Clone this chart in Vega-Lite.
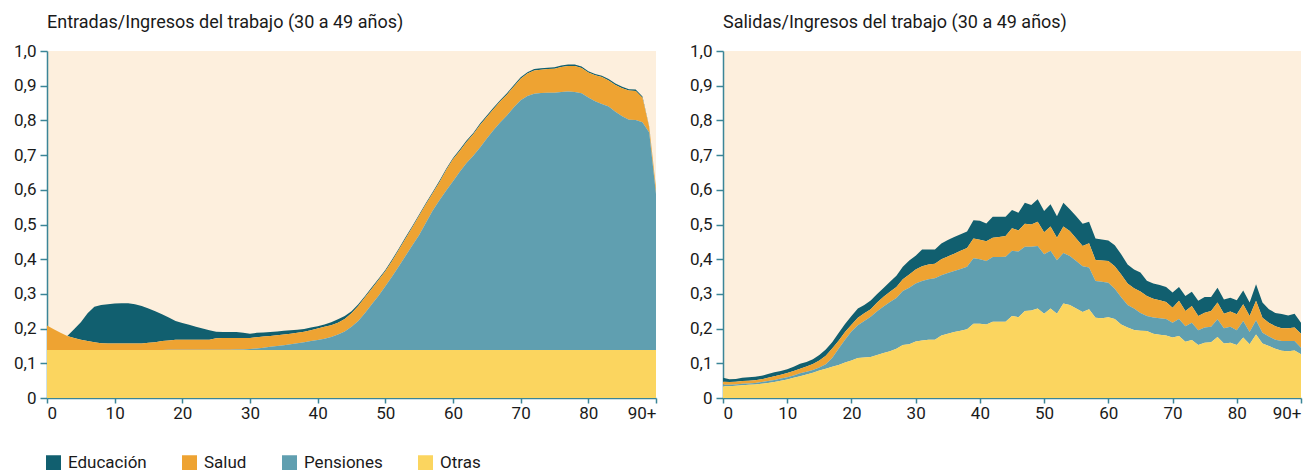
{
  "$schema": "https://vega.github.io/schema/vega-lite/v6.json",
  "background": "white",
  "padding": {"left": 13, "top": 14, "right": 10, "bottom": 0},
  "spacing": 67,
  "bounds": "flush",
  "config": {
    "font": "Roboto",
    "view": {"fill": "#FDEFDD", "stroke": null},
    "axis": {
      "grid": false,
      "title": null,
      "domainColor": "#3b8597",
      "domainWidth": 1.5,
      "tickColor": "#3b8597",
      "tickWidth": 1.5,
      "labelFont": "Roboto",
      "labelFontSize": 17,
      "labelColor": "#1a1a1a"
    },
    "title": {"font": "Roboto", "fontSize": 18, "fontWeight": "normal", "color": "#1a1a1a", "anchor": "start", "frame": "group", "offset": 10},
    "legend": {
      "orient": "none",
      "legendX": -2,
      "legendY": 403,
      "direction": "horizontal",
      "title": null,
      "symbolType": "square",
      "symbolSize": 225,
      "symbolStrokeWidth": 0,
      "labelFont": "Roboto",
      "labelFontSize": 17,
      "labelColor": "#1a1a1a",
      "labelOffset": 6,
      "columnPadding": 34
    }
  },
  "datasets": {
    "entradas": [
      {"edad":0,"Educación":0,"Salud":0.071,"Pensiones":0,"Otras":0.138},
      {"edad":1,"Educación":0,"Salud":0.060,"Pensiones":0,"Otras":0.138},
      {"edad":2,"Educación":0,"Salud":0.050,"Pensiones":0,"Otras":0.138},
      {"edad":3,"Educación":0,"Salud":0.041,"Pensiones":0,"Otras":0.138},
      {"edad":4,"Educación":0.025,"Salud":0.035,"Pensiones":0,"Otras":0.138},
      {"edad":5,"Educación":0.05,"Salud":0.030,"Pensiones":0,"Otras":0.138},
      {"edad":6,"Educación":0.08,"Salud":0.026,"Pensiones":0,"Otras":0.138},
      {"edad":7,"Educación":0.102,"Salud":0.023,"Pensiones":0,"Otras":0.138},
      {"edad":8,"Educación":0.11,"Salud":0.020,"Pensiones":0,"Otras":0.138},
      {"edad":9,"Educación":0.113,"Salud":0.019,"Pensiones":0,"Otras":0.138},
      {"edad":10,"Educación":0.115,"Salud":0.019,"Pensiones":0,"Otras":0.138},
      {"edad":11,"Educación":0.116,"Salud":0.019,"Pensiones":0,"Otras":0.138},
      {"edad":12,"Educación":0.116,"Salud":0.019,"Pensiones":0,"Otras":0.138},
      {"edad":13,"Educación":0.113,"Salud":0.019,"Pensiones":0,"Otras":0.138},
      {"edad":14,"Educación":0.108,"Salud":0.019,"Pensiones":0,"Otras":0.138},
      {"edad":15,"Educación":0.099,"Salud":0.021,"Pensiones":0,"Otras":0.138},
      {"edad":16,"Educación":0.089,"Salud":0.023,"Pensiones":0,"Otras":0.138},
      {"edad":17,"Educación":0.077,"Salud":0.026,"Pensiones":0,"Otras":0.138},
      {"edad":18,"Educación":0.066,"Salud":0.027,"Pensiones":0.001,"Otras":0.138},
      {"edad":19,"Educación":0.054,"Salud":0.029,"Pensiones":0.001,"Otras":0.138},
      {"edad":20,"Educación":0.048,"Salud":0.029,"Pensiones":0.001,"Otras":0.138},
      {"edad":21,"Educación":0.043,"Salud":0.029,"Pensiones":0.001,"Otras":0.138},
      {"edad":22,"Educación":0.037,"Salud":0.029,"Pensiones":0.001,"Otras":0.138},
      {"edad":23,"Educación":0.032,"Salud":0.029,"Pensiones":0.001,"Otras":0.138},
      {"edad":24,"Educación":0.027,"Salud":0.029,"Pensiones":0.001,"Otras":0.138},
      {"edad":25,"Educación":0.019,"Salud":0.033,"Pensiones":0.001,"Otras":0.138},
      {"edad":26,"Educación":0.017,"Salud":0.034,"Pensiones":0.001,"Otras":0.138},
      {"edad":27,"Educación":0.017,"Salud":0.034,"Pensiones":0.001,"Otras":0.138},
      {"edad":28,"Educación":0.017,"Salud":0.033,"Pensiones":0.002,"Otras":0.138},
      {"edad":29,"Educación":0.015,"Salud":0.033,"Pensiones":0.002,"Otras":0.138},
      {"edad":30,"Educación":0.012,"Salud":0.032,"Pensiones":0.003,"Otras":0.138},
      {"edad":31,"Educación":0.013,"Salud":0.032,"Pensiones":0.005,"Otras":0.138},
      {"edad":32,"Educación":0.012,"Salud":0.032,"Pensiones":0.007,"Otras":0.138},
      {"edad":33,"Educación":0.011,"Salud":0.031,"Pensiones":0.010,"Otras":0.138},
      {"edad":34,"Educación":0.011,"Salud":0.031,"Pensiones":0.012,"Otras":0.138},
      {"edad":35,"Educación":0.011,"Salud":0.031,"Pensiones":0.014,"Otras":0.138},
      {"edad":36,"Educación":0.010,"Salud":0.030,"Pensiones":0.017,"Otras":0.138},
      {"edad":37,"Educación":0.009,"Salud":0.030,"Pensiones":0.020,"Otras":0.138},
      {"edad":38,"Educación":0.008,"Salud":0.030,"Pensiones":0.023,"Otras":0.138},
      {"edad":39,"Educación":0.008,"Salud":0.031,"Pensiones":0.026,"Otras":0.138},
      {"edad":40,"Educación":0.007,"Salud":0.033,"Pensiones":0.029,"Otras":0.138},
      {"edad":41,"Educación":0.007,"Salud":0.034,"Pensiones":0.033,"Otras":0.138},
      {"edad":42,"Educación":0.008,"Salud":0.034,"Pensiones":0.038,"Otras":0.138},
      {"edad":43,"Educación":0.010,"Salud":0.034,"Pensiones":0.045,"Otras":0.138},
      {"edad":44,"Educación":0.008,"Salud":0.036,"Pensiones":0.054,"Otras":0.138},
      {"edad":45,"Educación":0.006,"Salud":0.039,"Pensiones":0.067,"Otras":0.138},
      {"edad":46,"Educación":0.005,"Salud":0.043,"Pensiones":0.084,"Otras":0.138},
      {"edad":47,"Educación":0.004,"Salud":0.045,"Pensiones":0.107,"Otras":0.138},
      {"edad":48,"Educación":0.004,"Salud":0.045,"Pensiones":0.132,"Otras":0.138},
      {"edad":49,"Educación":0.004,"Salud":0.045,"Pensiones":0.157,"Otras":0.138},
      {"edad":50,"Educación":0.004,"Salud":0.043,"Pensiones":0.184,"Otras":0.138},
      {"edad":51,"Educación":0.004,"Salud":0.045,"Pensiones":0.212,"Otras":0.138},
      {"edad":52,"Educación":0.004,"Salud":0.047,"Pensiones":0.242,"Otras":0.138},
      {"edad":53,"Educación":0.004,"Salud":0.050,"Pensiones":0.272,"Otras":0.138},
      {"edad":54,"Educación":0.004,"Salud":0.052,"Pensiones":0.302,"Otras":0.138},
      {"edad":55,"Educación":0.004,"Salud":0.055,"Pensiones":0.332,"Otras":0.138},
      {"edad":56,"Educación":0.004,"Salud":0.053,"Pensiones":0.367,"Otras":0.138},
      {"edad":57,"Educación":0.004,"Salud":0.050,"Pensiones":0.402,"Otras":0.138},
      {"edad":58,"Educación":0.004,"Salud":0.052,"Pensiones":0.432,"Otras":0.138},
      {"edad":59,"Educación":0.004,"Salud":0.059,"Pensiones":0.460,"Otras":0.138},
      {"edad":60,"Educación":0.004,"Salud":0.063,"Pensiones":0.487,"Otras":0.138},
      {"edad":61,"Educación":0.004,"Salud":0.060,"Pensiones":0.514,"Otras":0.138},
      {"edad":62,"Educación":0.004,"Salud":0.061,"Pensiones":0.539,"Otras":0.138},
      {"edad":63,"Educación":0.004,"Salud":0.062,"Pensiones":0.560,"Otras":0.138},
      {"edad":64,"Educación":0.004,"Salud":0.065,"Pensiones":0.584,"Otras":0.138},
      {"edad":65,"Educación":0.004,"Salud":0.062,"Pensiones":0.610,"Otras":0.138},
      {"edad":66,"Educación":0.004,"Salud":0.061,"Pensiones":0.634,"Otras":0.138},
      {"edad":67,"Educación":0.004,"Salud":0.060,"Pensiones":0.657,"Otras":0.138},
      {"edad":68,"Educación":0.004,"Salud":0.060,"Pensiones":0.677,"Otras":0.138},
      {"edad":69,"Educación":0.004,"Salud":0.060,"Pensiones":0.700,"Otras":0.138},
      {"edad":70,"Educación":0.004,"Salud":0.062,"Pensiones":0.720,"Otras":0.138},
      {"edad":71,"Educación":0.004,"Salud":0.065,"Pensiones":0.732,"Otras":0.138},
      {"edad":72,"Educación":0.004,"Salud":0.067,"Pensiones":0.739,"Otras":0.138},
      {"edad":73,"Educación":0.004,"Salud":0.067,"Pensiones":0.741,"Otras":0.138},
      {"edad":74,"Educación":0.004,"Salud":0.068,"Pensiones":0.742,"Otras":0.138},
      {"edad":75,"Educación":0.004,"Salud":0.069,"Pensiones":0.742,"Otras":0.138},
      {"edad":76,"Educación":0.004,"Salud":0.072,"Pensiones":0.744,"Otras":0.138},
      {"edad":77,"Educación":0.004,"Salud":0.074,"Pensiones":0.745,"Otras":0.138},
      {"edad":78,"Educación":0.004,"Salud":0.075,"Pensiones":0.744,"Otras":0.138},
      {"edad":79,"Educación":0.004,"Salud":0.073,"Pensiones":0.740,"Otras":0.138},
      {"edad":80,"Educación":0.004,"Salud":0.072,"Pensiones":0.728,"Otras":0.138},
      {"edad":81,"Educación":0.004,"Salud":0.075,"Pensiones":0.717,"Otras":0.138},
      {"edad":82,"Educación":0.004,"Salud":0.078,"Pensiones":0.709,"Otras":0.138},
      {"edad":83,"Educación":0.004,"Salud":0.075,"Pensiones":0.702,"Otras":0.138},
      {"edad":84,"Educación":0.004,"Salud":0.077,"Pensiones":0.687,"Otras":0.138},
      {"edad":85,"Educación":0.004,"Salud":0.081,"Pensiones":0.674,"Otras":0.138},
      {"edad":86,"Educación":0.004,"Salud":0.084,"Pensiones":0.664,"Otras":0.138},
      {"edad":87,"Educación":0.004,"Salud":0.084,"Pensiones":0.663,"Otras":0.138},
      {"edad":88,"Educación":0.004,"Salud":0.070,"Pensiones":0.657,"Otras":0.138},
      {"edad":89,"Educación":0.002,"Salud":0.015,"Pensiones":0.627,"Otras":0.138},
      {"edad":90,"Educación":0,"Salud":0.017,"Pensiones":0.450,"Otras":0.138}
    ],
    "salidas": [
      {"edad":0,"Educación":0.011,"Salud":0.009,"Pensiones":0.004,"Otras":0.034},
      {"edad":1,"Educación":0.008,"Salud":0.008,"Pensiones":0.004,"Otras":0.034},
      {"edad":2,"Educación":0.008,"Salud":0.008,"Pensiones":0.004,"Otras":0.035},
      {"edad":3,"Educación":0.009,"Salud":0.008,"Pensiones":0.004,"Otras":0.037},
      {"edad":4,"Educación":0.010,"Salud":0.008,"Pensiones":0.004,"Otras":0.038},
      {"edad":5,"Educación":0.010,"Salud":0.008,"Pensiones":0.004,"Otras":0.039},
      {"edad":6,"Educación":0.010,"Salud":0.008,"Pensiones":0.005,"Otras":0.041},
      {"edad":7,"Educación":0.011,"Salud":0.009,"Pensiones":0.006,"Otras":0.043},
      {"edad":8,"Educación":0.011,"Salud":0.011,"Pensiones":0.006,"Otras":0.046},
      {"edad":9,"Educación":0.011,"Salud":0.011,"Pensiones":0.006,"Otras":0.050},
      {"edad":10,"Educación":0.011,"Salud":0.012,"Pensiones":0.007,"Otras":0.053},
      {"edad":11,"Educación":0.012,"Salud":0.013,"Pensiones":0.007,"Otras":0.058},
      {"edad":12,"Educación":0.015,"Salud":0.013,"Pensiones":0.008,"Otras":0.063},
      {"edad":13,"Educación":0.013,"Salud":0.015,"Pensiones":0.008,"Otras":0.068},
      {"edad":14,"Educación":0.014,"Salud":0.017,"Pensiones":0.008,"Otras":0.073},
      {"edad":15,"Educación":0.016,"Salud":0.020,"Pensiones":0.009,"Otras":0.079},
      {"edad":16,"Educación":0.018,"Salud":0.025,"Pensiones":0.013,"Otras":0.084},
      {"edad":17,"Educación":0.018,"Salud":0.028,"Pensiones":0.025,"Otras":0.090},
      {"edad":18,"Educación":0.022,"Salud":0.023,"Pensiones":0.047,"Otras":0.095},
      {"edad":19,"Educación":0.023,"Salud":0.022,"Pensiones":0.066,"Otras":0.102},
      {"edad":20,"Educación":0.025,"Salud":0.019,"Pensiones":0.084,"Otras":0.108},
      {"edad":21,"Educación":0.027,"Salud":0.021,"Pensiones":0.095,"Otras":0.115},
      {"edad":22,"Educación":0.024,"Salud":0.022,"Pensiones":0.105,"Otras":0.117},
      {"edad":23,"Educación":0.025,"Salud":0.022,"Pensiones":0.116,"Otras":0.118},
      {"edad":24,"Educación":0.025,"Salud":0.025,"Pensiones":0.126,"Otras":0.124},
      {"edad":25,"Educación":0.025,"Salud":0.028,"Pensiones":0.134,"Otras":0.130},
      {"edad":26,"Educación":0.029,"Salud":0.029,"Pensiones":0.142,"Otras":0.135},
      {"edad":27,"Educación":0.032,"Salud":0.032,"Pensiones":0.146,"Otras":0.142},
      {"edad":28,"Educación":0.036,"Salud":0.034,"Pensiones":0.155,"Otras":0.153},
      {"edad":29,"Educación":0.040,"Salud":0.038,"Pensiones":0.163,"Otras":0.155},
      {"edad":30,"Educación":0.040,"Salud":0.040,"Pensiones":0.167,"Otras":0.163},
      {"edad":31,"Educación":0.048,"Salud":0.043,"Pensiones":0.171,"Otras":0.166},
      {"edad":32,"Educación":0.043,"Salud":0.043,"Pensiones":0.174,"Otras":0.168},
      {"edad":33,"Educación":0.041,"Salud":0.042,"Pensiones":0.177,"Otras":0.168},
      {"edad":34,"Educación":0.045,"Salud":0.046,"Pensiones":0.174,"Otras":0.180},
      {"edad":35,"Educación":0.047,"Salud":0.048,"Pensiones":0.175,"Otras":0.185},
      {"edad":36,"Educación":0.048,"Salud":0.050,"Pensiones":0.176,"Otras":0.190},
      {"edad":37,"Educación":0.048,"Salud":0.052,"Pensiones":0.178,"Otras":0.194},
      {"edad":38,"Educación":0.048,"Salud":0.054,"Pensiones":0.180,"Otras":0.198},
      {"edad":39,"Educación":0.052,"Salud":0.057,"Pensiones":0.189,"Otras":0.214},
      {"edad":40,"Educación":0.055,"Salud":0.056,"Pensiones":0.186,"Otras":0.214},
      {"edad":41,"Educación":0.051,"Salud":0.057,"Pensiones":0.183,"Otras":0.212},
      {"edad":42,"Educación":0.060,"Salud":0.056,"Pensiones":0.186,"Otras":0.220},
      {"edad":43,"Educación":0.058,"Salud":0.058,"Pensiones":0.186,"Otras":0.220},
      {"edad":44,"Educación":0.055,"Salud":0.060,"Pensiones":0.187,"Otras":0.220},
      {"edad":45,"Educación":0.053,"Salud":0.065,"Pensiones":0.188,"Otras":0.236},
      {"edad":46,"Educación":0.051,"Salud":0.061,"Pensiones":0.189,"Otras":0.233},
      {"edad":47,"Educación":0.061,"Salud":0.066,"Pensiones":0.185,"Otras":0.251},
      {"edad":48,"Educación":0.056,"Salud":0.064,"Pensiones":0.184,"Otras":0.252},
      {"edad":49,"Educación":0.065,"Salud":0.070,"Pensiones":0.180,"Otras":0.258},
      {"edad":50,"Educación":0.061,"Salud":0.064,"Pensiones":0.171,"Otras":0.243},
      {"edad":51,"Educación":0.064,"Salud":0.070,"Pensiones":0.166,"Otras":0.258},
      {"edad":52,"Educación":0.062,"Salud":0.065,"Pensiones":0.154,"Otras":0.243},
      {"edad":53,"Educación":0.069,"Salud":0.076,"Pensiones":0.146,"Otras":0.272},
      {"edad":54,"Educación":0.063,"Salud":0.072,"Pensiones":0.141,"Otras":0.268},
      {"edad":55,"Educación":0.064,"Salud":0.065,"Pensiones":0.137,"Otras":0.258},
      {"edad":56,"Educación":0.064,"Salud":0.058,"Pensiones":0.132,"Otras":0.248},
      {"edad":57,"Educación":0.062,"Salud":0.070,"Pensiones":0.120,"Otras":0.256},
      {"edad":58,"Educación":0.062,"Salud":0.061,"Pensiones":0.106,"Otras":0.231},
      {"edad":59,"Educación":0.061,"Salud":0.061,"Pensiones":0.105,"Otras":0.230},
      {"edad":60,"Educación":0.059,"Salud":0.063,"Pensiones":0.099,"Otras":0.233},
      {"edad":61,"Educación":0.060,"Salud":0.065,"Pensiones":0.087,"Otras":0.228},
      {"edad":62,"Educación":0.058,"Salud":0.066,"Pensiones":0.078,"Otras":0.212},
      {"edad":63,"Educación":0.055,"Salud":0.062,"Pensiones":0.065,"Otras":0.203},
      {"edad":64,"Educación":0.054,"Salud":0.058,"Pensiones":0.062,"Otras":0.196},
      {"edad":65,"Educación":0.055,"Salud":0.062,"Pensiones":0.051,"Otras":0.194},
      {"edad":66,"Educación":0.044,"Salud":0.058,"Pensiones":0.043,"Otras":0.193},
      {"edad":67,"Educación":0.044,"Salud":0.054,"Pensiones":0.047,"Otras":0.185},
      {"edad":68,"Educación":0.044,"Salud":0.052,"Pensiones":0.048,"Otras":0.182},
      {"edad":69,"Educación":0.043,"Salud":0.049,"Pensiones":0.048,"Otras":0.180},
      {"edad":70,"Educación":0.044,"Salud":0.043,"Pensiones":0.043,"Otras":0.174},
      {"edad":71,"Educación":0.040,"Salud":0.052,"Pensiones":0.049,"Otras":0.179},
      {"edad":72,"Educación":0.043,"Salud":0.044,"Pensiones":0.045,"Otras":0.162},
      {"edad":73,"Educación":0.041,"Salud":0.048,"Pensiones":0.050,"Otras":0.167},
      {"edad":74,"Educación":0.044,"Salud":0.041,"Pensiones":0.042,"Otras":0.153},
      {"edad":75,"Educación":0.045,"Salud":0.043,"Pensiones":0.044,"Otras":0.159},
      {"edad":76,"Educación":0.040,"Salud":0.046,"Pensiones":0.044,"Otras":0.161},
      {"edad":77,"Educación":0.043,"Salud":0.048,"Pensiones":0.051,"Otras":0.176},
      {"edad":78,"Educación":0.041,"Salud":0.042,"Pensiones":0.044,"Otras":0.157},
      {"edad":79,"Educación":0.040,"Salud":0.044,"Pensiones":0.046,"Otras":0.159},
      {"edad":80,"Educación":0.041,"Salud":0.046,"Pensiones":0.042,"Otras":0.153},
      {"edad":81,"Educación":0.040,"Salud":0.048,"Pensiones":0.048,"Otras":0.174},
      {"edad":82,"Educación":0.039,"Salud":0.046,"Pensiones":0.035,"Otras":0.155},
      {"edad":83,"Educación":0.048,"Salud":0.056,"Pensiones":0.041,"Otras":0.183},
      {"edad":84,"Educación":0.044,"Salud":0.043,"Pensiones":0.031,"Otras":0.157},
      {"edad":85,"Educación":0.039,"Salud":0.040,"Pensiones":0.027,"Otras":0.150},
      {"edad":86,"Educación":0.038,"Salud":0.039,"Pensiones":0.026,"Otras":0.142},
      {"edad":87,"Educación":0.041,"Salud":0.037,"Pensiones":0.028,"Otras":0.136},
      {"edad":88,"Educación":0.037,"Salud":0.037,"Pensiones":0.029,"Otras":0.135},
      {"edad":89,"Educación":0.040,"Salud":0.039,"Pensiones":0.027,"Otras":0.137},
      {"edad":90,"Educación":0.032,"Salud":0.040,"Pensiones":0.019,"Otras":0.126}
    ],
    "orden": [
      {"categoria":"Otras","capa":1},
      {"categoria":"Pensiones","capa":2},
      {"categoria":"Salud","capa":3},
      {"categoria":"Educación","capa":4}
    ]
  },
  "hconcat": [
    {
      "width": 609,
      "height": 347,
      "title": "Entradas/Ingresos del trabajo (30 a 49 años)",
      "data": {"name": "entradas"},
      "transform": [
        {"fold": ["Educación", "Salud", "Pensiones", "Otras"], "as": ["categoria", "valor"]},
        {"lookup": "categoria", "from": {"data": {"name": "orden"}, "key": "categoria", "fields": ["capa"]}}
      ],
      "mark": {"type": "area", "interpolate": "linear"},
      "encoding": {
        "x": {"field": "edad", "type": "quantitative", "scale": {"domain": [0, 90], "nice": false},
          "axis": {"values": [0,10,20,30,40,50,60,70,80,90], "tickSize": 5, "labelPadding": 2, "labelExpr": "datum.value == 90 ? '90+' : datum.label"}},
        "y": {"field": "valor", "type": "quantitative", "stack": "zero", "scale": {"domain": [0, 1], "nice": false},
          "axis": {"values": [0,0.1,0.2,0.3,0.4,0.5,0.6,0.7,0.8,0.9,1], "tickSize": 7, "labelPadding": 4, "labelExpr": "datum.value == 0 ? '0' : replace(format(datum.value, '.1f'), '.', ',')"}},
        "color": {"field": "categoria", "type": "nominal",
          "scale": {"domain": ["Educación", "Salud", "Pensiones", "Otras"], "range": ["#115F6F", "#EEA332", "#609FB0", "#FBD55F"]}},
        "order": {"field": "capa", "type": "quantitative", "sort": "ascending"}
      }
    },
    {
      "width": 578,
      "height": 347,
      "title": "Salidas/Ingresos del trabajo (30 a 49 años)",
      "data": {"name": "salidas"},
      "transform": [
        {"fold": ["Educación", "Salud", "Pensiones", "Otras"], "as": ["categoria", "valor"]},
        {"lookup": "categoria", "from": {"data": {"name": "orden"}, "key": "categoria", "fields": ["capa"]}}
      ],
      "mark": {"type": "area", "interpolate": "linear"},
      "encoding": {
        "x": {"field": "edad", "type": "quantitative", "scale": {"domain": [0, 90], "nice": false},
          "axis": {"values": [0,10,20,30,40,50,60,70,80,90], "tickSize": 5, "labelPadding": 2, "labelExpr": "datum.value == 90 ? '90+' : datum.label"}},
        "y": {"field": "valor", "type": "quantitative", "stack": "zero", "scale": {"domain": [0, 1], "nice": false},
          "axis": {"values": [0,0.1,0.2,0.3,0.4,0.5,0.6,0.7,0.8,0.9,1], "tickSize": 7, "labelPadding": 4, "labelExpr": "datum.value == 0 ? '0' : replace(format(datum.value, '.1f'), '.', ',')"}},
        "color": {"field": "categoria", "type": "nominal",
          "scale": {"domain": ["Educación", "Salud", "Pensiones", "Otras"], "range": ["#115F6F", "#EEA332", "#609FB0", "#FBD55F"]}},
        "order": {"field": "capa", "type": "quantitative", "sort": "ascending"}
      }
    }
  ]
}
